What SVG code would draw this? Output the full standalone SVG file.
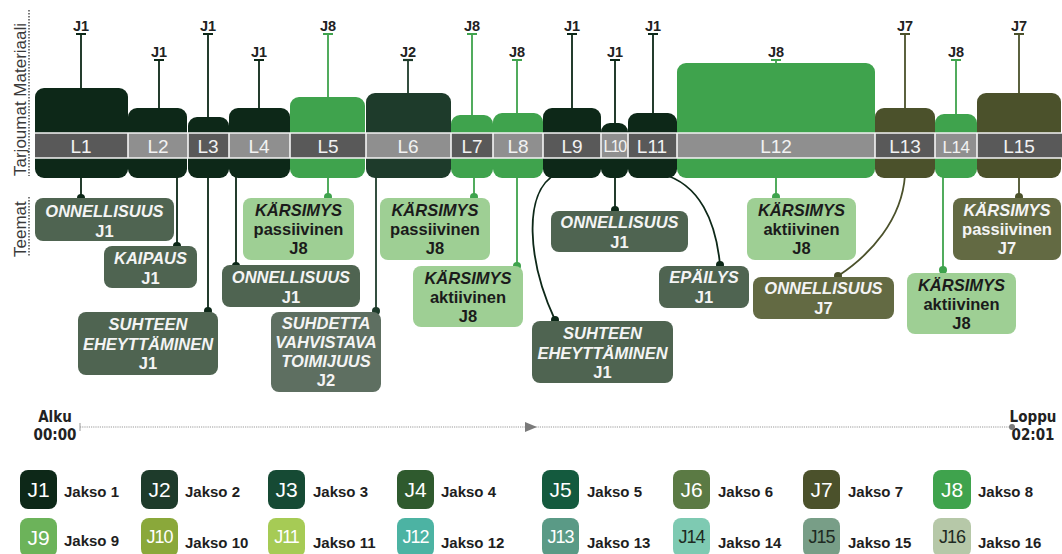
<svg xmlns="http://www.w3.org/2000/svg" width="1062" height="554" viewBox="0 0 1062 554">
  <defs>
    <style>
      text { font-family: "Liberation Sans", Arial, sans-serif; }
      .axis { font-size: 17px; fill: #3a3a3a; }
      .mlab { font-size: 14.5px; font-weight: bold; fill: #222; text-anchor: middle; }
      .seg { font-size: 19px; fill: #f2f2f2; text-anchor: middle; }
      .segD { fill: #595959; }
      .segL { fill: #8f8f8f; }
      .th { font-size: 16.5px; font-weight: bold; text-anchor: middle; }
      .it { font-style: italic; }
      .wt { fill: #f4f4f4; }
      .dk { fill: #1b1b1b; }
      .tl { font-family: "Liberation Sans Narrow", "DejaVu Sans Condensed", "Liberation Sans", sans-serif; font-stretch: condensed; font-size: 15px; font-weight: bold; fill: #222; text-anchor: middle; }
      .lg { font-size: 15px; font-weight: bold; fill: #1e1e1e; }
      .sw { font-size: 21px; text-anchor: middle; fill: #fff; }
      .swd { fill: #1e2a22; }
      .c1 { fill: #0d2818; } .s1 { stroke: #0d2818; }
      .c2 { fill: #1e3b2b; } .s2 { stroke: #1e3b2b; }
      .c7 { fill: #4b512b; } .s7 { stroke: #4b512b; }
      .c8 { fill: #3fa34d; } .s8 { stroke: #3fa34d; }
      .t1 { fill: #4f6451; }
      .t2 { fill: #5e6f61; }
      .t7 { fill: #636a43; }
      .t8 { fill: #9ecf94; }
      .stem { fill: none; stroke-width: 1.8; }
      .cap { stroke-width: 2.2; }
    </style>
  </defs>

  <rect width="1062" height="554" fill="#ffffff"/>

  <!-- side axis captions -->
  <g id="axis-labels">
    <text class="axis" transform="translate(26,176) rotate(-90)">Tarjoumat Materiaali</text>
    <line x1="29" y1="10" x2="29" y2="176" stroke="#444" stroke-width="1.4" stroke-dasharray="1.5 1.5"/>
    <text class="axis" transform="translate(26,257) rotate(-90)">Teemat</text>
    <line x1="29" y1="197" x2="29" y2="257" stroke="#444" stroke-width="1.4" stroke-dasharray="1.5 1.5"/>
  </g>

  <!-- connectors: material stems (top) and theme links (bottom) -->
  <g id="connectors">
    <!-- top stems with T caps -->
    <g class="stem">
      <path class="s1" d="M81 34V90 M159 60V110 M208 34V119 M259 60V110 M572 34V110 M615 60V125 M653 34V115"/>
      <path class="s8" d="M328 34V99 M472 34V117 M517 60V115 M776 60V65 M956 60V116"/>
      <path class="s2" d="M408 60V95"/>
      <path class="s7" d="M905 34V110 M1019 34V95"/>
    </g>
    <g class="cap">
      <path class="s1" d="M76 34H86 M154 60H164 M203 34H213 M254 60H264 M567 34H577 M610 60H620 M648 34H658"/>
      <path class="s8" d="M323 34H333 M467 34H477 M512 60H522 M771 60H781 M951 60H961"/>
      <path class="s2" d="M403 60H413"/>
      <path class="s7" d="M900 34H910 M1014 34H1024"/>
    </g>
    <!-- bottom links to themes -->
    <g class="stem">
      <path class="s1" d="M81 175V198 M177 175V246 M208 175V311 M236 175V266 M615 175V210"/>
      <path class="s1" d="M556 174C522 192 528 262 555 320"/>
      <path class="s1" d="M662 174C700 184 716 222 720 265"/>
      <path class="s2" d="M376 175V311"/>
      <path class="s8" d="M328 175V197 M474 175V197 M517 175V266 M776 175V197 M943 175V270"/>
      <path class="s7" d="M905 175C902 220 870 255 838 276"/>
      <path class="s7" d="M1019 175V197"/>
    </g>
    <g>
      <circle class="c1" cx="81" cy="198" r="4"/>
      <circle class="c1" cx="177" cy="246" r="4"/>
      <circle class="c1" cx="208" cy="311" r="4"/>
      <circle class="c1" cx="236" cy="266" r="4"/>
      <circle class="c1" cx="615" cy="210" r="4"/>
      <circle class="c1" cx="555" cy="320" r="4"/>
      <circle class="c1" cx="720" cy="265" r="4"/>
      <circle class="c2" cx="376" cy="311" r="4"/>
      <circle class="c8" cx="328" cy="197" r="4"/>
      <circle class="c8" cx="474" cy="197" r="4"/>
      <circle class="c8" cx="517" cy="266" r="4"/>
      <circle class="c8" cx="776" cy="197" r="4"/>
      <circle class="c8" cx="943" cy="270" r="4"/>
      <circle class="c7" cx="838" cy="276" r="4"/>
      <circle class="c7" cx="1019" cy="197" r="4"/>
    </g>
  </g>

  <!-- material labels -->
  <g id="material-labels">
    <text class="mlab" x="81" y="31">J1</text>
    <text class="mlab" x="159" y="57">J1</text>
    <text class="mlab" x="208" y="31">J1</text>
    <text class="mlab" x="259" y="57">J1</text>
    <text class="mlab" x="328" y="31">J8</text>
    <text class="mlab" x="408" y="57">J2</text>
    <text class="mlab" x="472" y="31">J8</text>
    <text class="mlab" x="517" y="57">J8</text>
    <text class="mlab" x="572" y="31">J1</text>
    <text class="mlab" x="615" y="57">J1</text>
    <text class="mlab" x="653" y="31">J1</text>
    <text class="mlab" x="776" y="57">J8</text>
    <text class="mlab" x="905" y="31">J7</text>
    <text class="mlab" x="956" y="57">J8</text>
    <text class="mlab" x="1019" y="31">J7</text>
  </g>

  <!-- offer blocks behind the segment band -->
  <g id="blocks">
    <rect id="b-L1" class="c1" x="35" y="88" width="93" height="90" rx="9"/>
    <rect id="b-L2" class="c1" x="128" y="108" width="59" height="70" rx="9"/>
    <rect id="b-L3" class="c1" x="188" y="117" width="41" height="61" rx="9"/>
    <rect id="b-L4" class="c1" x="229" y="108" width="61" height="70" rx="9"/>
    <rect id="b-L5" class="c8" x="290" y="97" width="75" height="81" rx="9"/>
    <rect id="b-L6" class="c2" x="366" y="93" width="85" height="85" rx="9"/>
    <rect id="b-L7" class="c8" x="451" y="115" width="42" height="63" rx="9"/>
    <rect id="b-L8" class="c8" x="493" y="113" width="50" height="65" rx="9"/>
    <rect id="b-L9" class="c1" x="543" y="108" width="58" height="70" rx="9"/>
    <rect id="b-L10" class="c1" x="601" y="123" width="27" height="55" rx="9"/>
    <rect id="b-L11" class="c1" x="628" y="113" width="49" height="65" rx="9"/>
    <rect id="b-L12" class="c8" x="677" y="63" width="198" height="115" rx="9"/>
    <rect id="b-L13" class="c7" x="875" y="108" width="60" height="70" rx="9"/>
    <rect id="b-L14" class="c8" x="935" y="114" width="42" height="64" rx="9"/>
    <rect id="b-L15" class="c7" x="977" y="93" width="84" height="85" rx="9"/>
  </g>

  <!-- segment band -->
  <g id="band">
    <rect class="segD" x="35" y="133" width="93" height="25"/>
    <rect class="segL" x="128" y="133" width="60" height="25"/>
    <rect class="segD" x="188" y="133" width="41" height="25"/>
    <rect class="segL" x="229" y="133" width="61" height="25"/>
    <rect class="segD" x="290" y="133" width="76" height="25"/>
    <rect class="segL" x="366" y="133" width="85" height="25"/>
    <rect class="segD" x="451" y="133" width="42" height="25"/>
    <rect class="segL" x="493" y="133" width="50" height="25"/>
    <rect class="segD" x="543" y="133" width="58" height="25"/>
    <rect class="segL" x="601" y="133" width="27" height="25"/>
    <rect class="segD" x="628" y="133" width="49" height="25"/>
    <rect class="segL" x="677" y="133" width="198" height="25"/>
    <rect class="segD" x="875" y="133" width="60" height="25"/>
    <rect class="segL" x="935" y="133" width="42" height="25"/>
    <rect class="segD" x="977" y="133" width="85" height="25"/>
    <path d="M35 133H1062 M35 158H1062 M128 133V158 M188 133V158 M229 133V158 M290 133V158 M366 133V158 M451 133V158 M493 133V158 M543 133V158 M601 133V158 M628 133V158 M677 133V158 M875 133V158 M935 133V158 M977 133V158" stroke="#f4f4f4" stroke-width="1.6" fill="none"/>
    <text class="seg" x="81" y="152.5">L1</text>
    <text class="seg" x="158" y="152.5">L2</text>
    <text class="seg" x="208" y="152.5">L3</text>
    <text class="seg" x="259" y="152.5">L4</text>
    <text class="seg" x="328" y="152.5">L5</text>
    <text class="seg" x="408" y="152.5">L6</text>
    <text class="seg" x="472" y="152.5">L7</text>
    <text class="seg" x="518" y="152.5">L8</text>
    <text class="seg" x="572" y="152.5">L9</text>
    <text class="seg" x="614.5" y="152" style="font-size:16px;letter-spacing:-1.5px">L10</text>
    <text class="seg" x="652" y="152.5">L11</text>
    <text class="seg" x="776" y="152.5">L12</text>
    <text class="seg" x="905" y="152.5">L13</text>
    <text class="seg" x="956" y="152.5" style="font-size:17px;letter-spacing:-0.5px">L14</text>
    <text class="seg" x="1019" y="152.5">L15</text>
  </g>

  <!-- theme nodes -->
  <g id="theme-L1">
    <rect class="t1" x="35" y="198" width="139" height="43" rx="8"/>
    <text class="th wt" x="104.5" y="217"><tspan class="it">ONNELLISUUS</tspan><tspan x="104.5" dy="20">J1</tspan></text>
  </g>
  <g id="theme-L2">
    <rect class="t1" x="104" y="246" width="93" height="42" rx="8"/>
    <text class="th wt" x="150.5" y="264"><tspan class="it">KAIPAUS</tspan><tspan x="150.5" dy="19.5">J1</tspan></text>
  </g>
  <g id="theme-L3">
    <rect class="t1" x="78" y="312" width="140" height="63" rx="8"/>
    <text class="th wt" x="148" y="330"><tspan class="it">SUHTEEN</tspan><tspan class="it" x="148" dy="19.5">EHEYTTÄMINEN</tspan><tspan x="148" dy="19.5">J1</tspan></text>
  </g>
  <g id="theme-L5">
    <rect class="t8" x="243" y="198" width="111" height="62" rx="8"/>
    <text class="th dk" x="298.5" y="216"><tspan class="it">KÄRSIMYS</tspan><tspan x="298.5" dy="19">passiivinen</tspan><tspan x="298.5" dy="19">J8</tspan></text>
  </g>
  <g id="theme-L4">
    <rect class="t1" x="222" y="265" width="138" height="42" rx="8"/>
    <text class="th wt" x="291" y="283"><tspan class="it">ONNELLISUUS</tspan><tspan x="291" dy="19.5">J1</tspan></text>
  </g>
  <g id="theme-L6">
    <rect class="t2" x="271" y="312" width="110" height="80" rx="8"/>
    <text class="th wt" x="326" y="329"><tspan class="it">SUHDETTA</tspan><tspan class="it" x="326" dy="19">VAHVISTAVA</tspan><tspan class="it" x="326" dy="19">TOIMIJUUS</tspan><tspan x="326" dy="19">J2</tspan></text>
  </g>
  <g id="theme-L7">
    <rect class="t8" x="380" y="198" width="110" height="62" rx="8"/>
    <text class="th dk" x="435" y="216"><tspan class="it">KÄRSIMYS</tspan><tspan x="435" dy="19">passiivinen</tspan><tspan x="435" dy="19">J8</tspan></text>
  </g>
  <g id="theme-L8">
    <rect class="t8" x="413" y="266" width="110" height="61" rx="8"/>
    <text class="th dk" x="468" y="284"><tspan class="it">KÄRSIMYS</tspan><tspan x="468" dy="19">aktiivinen</tspan><tspan x="468" dy="19">J8</tspan></text>
  </g>
  <g id="theme-L10">
    <rect class="t1" x="551" y="211" width="137" height="41" rx="8"/>
    <text class="th wt" x="619.5" y="228"><tspan class="it">ONNELLISUUS</tspan><tspan x="619.5" dy="19.5">J1</tspan></text>
  </g>
  <g id="theme-L9">
    <rect class="t1" x="532" y="321" width="141" height="62" rx="8"/>
    <text class="th wt" x="602.5" y="339"><tspan class="it">SUHTEEN</tspan><tspan class="it" x="602.5" dy="19.5">EHEYTTÄMINEN</tspan><tspan x="602.5" dy="19.5">J1</tspan></text>
  </g>
  <g id="theme-L11">
    <rect class="t1" x="659" y="266" width="90" height="42" rx="8"/>
    <text class="th wt" x="704" y="283"><tspan class="it">EPÄILYS</tspan><tspan x="704" dy="19.5">J1</tspan></text>
  </g>
  <g id="theme-L12">
    <rect class="t8" x="747" y="198" width="109" height="62" rx="8"/>
    <text class="th dk" x="801.5" y="216"><tspan class="it">KÄRSIMYS</tspan><tspan x="801.5" dy="19">aktiivinen</tspan><tspan x="801.5" dy="19">J8</tspan></text>
  </g>
  <g id="theme-L13">
    <rect class="t7" x="753" y="277" width="141" height="42" rx="8"/>
    <text class="th wt" x="823.5" y="294"><tspan class="it">ONNELLISUUS</tspan><tspan x="823.5" dy="19.5">J7</tspan></text>
  </g>
  <g id="theme-L14">
    <rect class="t8" x="907" y="273" width="109" height="61" rx="8"/>
    <text class="th dk" x="961.5" y="291"><tspan class="it">KÄRSIMYS</tspan><tspan x="961.5" dy="19">aktiivinen</tspan><tspan x="961.5" dy="19">J8</tspan></text>
  </g>
  <g id="theme-L15">
    <rect class="t7" x="953" y="198" width="108" height="62" rx="8"/>
    <text class="th wt" x="1007" y="216"><tspan class="it">KÄRSIMYS</tspan><tspan x="1007" dy="19">passiivinen</tspan><tspan x="1007" dy="19">J7</tspan></text>
  </g>

  <!-- time axis -->
  <g id="timeline">
    <text class="tl" x="55" y="422">Alku</text>
    <text class="tl" x="55" y="440">00:00</text>
    <text class="tl" x="1033" y="422">Loppu</text>
    <text class="tl" x="1033" y="440">02:01</text>
    <line x1="80" y1="427" x2="1011" y2="427" stroke="#9a9a9a" stroke-width="1.2" stroke-dasharray="1.2 1"/>
    <line x1="80" y1="423" x2="80" y2="431" stroke="#9a9a9a" stroke-width="1"/>
    <path d="M525 422L537 427L525 432Z" fill="#7a7a7a"/>
    <circle cx="1012" cy="427" r="3" fill="#7a7a7a"/>
  </g>

  <!-- legend of periods -->
  <g id="legend">
    <g id="lg-J1"><rect x="20" y="470" width="37" height="39" rx="8" fill="#0d2818"/><text class="sw" x="38.5" y="497">J1</text><text class="lg" x="64" y="497">Jakso 1</text></g>
    <g id="lg-J2"><rect x="141" y="470" width="37" height="39" rx="8" fill="#1e3b2b"/><text class="sw" x="159.5" y="497">J2</text><text class="lg" x="185" y="497">Jakso 2</text></g>
    <g id="lg-J3"><rect x="268" y="470" width="37" height="39" rx="8" fill="#164a34"/><text class="sw" x="286.5" y="497">J3</text><text class="lg" x="313" y="497">Jakso 3</text></g>
    <g id="lg-J4"><rect x="397" y="470" width="37" height="39" rx="8" fill="#2f5a2e"/><text class="sw" x="415.5" y="497">J4</text><text class="lg" x="441" y="497">Jakso 4</text></g>
    <g id="lg-J5"><rect x="542" y="470" width="37" height="39" rx="8" fill="#145a3e"/><text class="sw" x="560.5" y="497">J5</text><text class="lg" x="587" y="497">Jakso 5</text></g>
    <g id="lg-J6"><rect x="673" y="470" width="37" height="39" rx="8" fill="#5b7a44"/><text class="sw" x="691.5" y="497">J6</text><text class="lg" x="718" y="497">Jakso 6</text></g>
    <g id="lg-J7"><rect x="803" y="470" width="37" height="39" rx="8" fill="#4b512b"/><text class="sw" x="821.5" y="497">J7</text><text class="lg" x="848" y="497">Jakso 7</text></g>
    <g id="lg-J8"><rect x="933" y="470" width="38" height="39" rx="8" fill="#3fa34d"/><text class="sw" x="952" y="497">J8</text><text class="lg" x="978" y="497">Jakso 8</text></g>

    <g id="lg-J9"><rect x="20" y="518" width="37" height="39" rx="8" fill="#6cb35a"/><text class="sw" x="38.5" y="545">J9</text><text class="lg" x="64" y="546">Jakso 9</text></g>
    <g id="lg-J10"><rect x="141" y="518" width="37" height="39" rx="8" fill="#8aa83a"/><text class="sw" x="159.5" y="543" style="font-size:18px;letter-spacing:-1px">J10</text><text class="lg" x="185" y="548">Jakso 10</text></g>
    <g id="lg-J11"><rect x="268" y="518" width="37" height="39" rx="8" fill="#a6cb55"/><text class="sw" x="286.5" y="543" style="font-size:18px;letter-spacing:-1px">J11</text><text class="lg" x="313" y="548">Jakso 11</text></g>
    <g id="lg-J12"><rect x="397" y="518" width="37" height="39" rx="8" fill="#4cb3a3"/><text class="sw" x="415.5" y="543" style="font-size:18px;letter-spacing:-1px">J12</text><text class="lg" x="441" y="548">Jakso 12</text></g>
    <g id="lg-J13"><rect x="542" y="518" width="37" height="39" rx="8" fill="#5a9a86"/><text class="sw" x="560.5" y="543" style="font-size:18px;letter-spacing:-1px">J13</text><text class="lg" x="587" y="548">Jakso 13</text></g>
    <g id="lg-J14"><rect x="673" y="518" width="37" height="39" rx="8" fill="#7ecab2"/><text class="sw swd" x="691.5" y="543" style="font-size:18px;letter-spacing:-1px">J14</text><text class="lg" x="718" y="548">Jakso 14</text></g>
    <g id="lg-J15"><rect x="803" y="518" width="37" height="39" rx="8" fill="#789e87"/><text class="sw swd" x="821.5" y="543" style="font-size:18px;letter-spacing:-1px">J15</text><text class="lg" x="848" y="548">Jakso 15</text></g>
    <g id="lg-J16"><rect x="933" y="518" width="38" height="39" rx="8" fill="#b6c8a8"/><text class="sw swd" x="952" y="543" style="font-size:18px;letter-spacing:-1px">J16</text><text class="lg" x="978" y="548">Jakso 16</text></g>
  </g>
</svg>
